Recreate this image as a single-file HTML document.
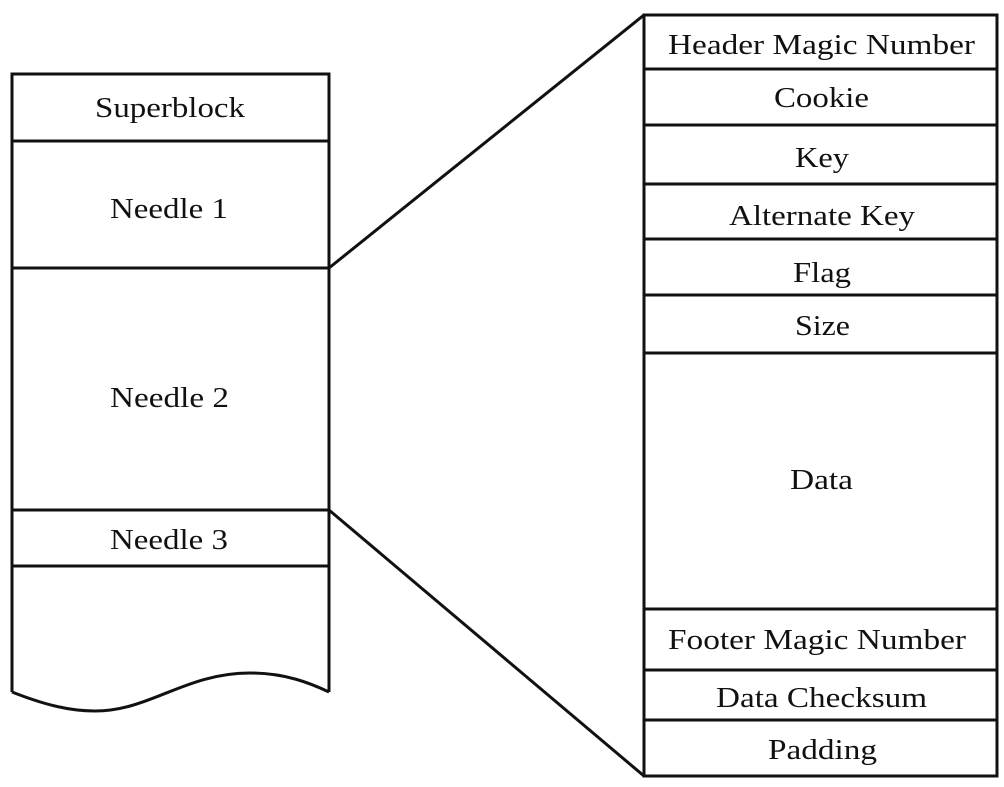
<!DOCTYPE html>
<html><head><meta charset="utf-8"><style>
html,body{margin:0;padding:0;background:#fff;}
svg{display:block;}
text{font-family:"Liberation Serif","Times New Roman",serif;font-size:28px;fill:#111;}
</style></head><body>
<svg width="1004" height="787" viewBox="0 0 1004 787" xmlns="http://www.w3.org/2000/svg">
<g stroke="#111" stroke-width="3" fill="none">
<path d="M12,692 L12,74 L329,74 L329,692"/>
<path d="M12,692 C45,705 70,711 95,711 C150,711 185,673 250,673 C285,673 310,683 329,692"/>
<line x1="12" y1="141" x2="329" y2="141"/>
<line x1="12" y1="268" x2="329" y2="268"/>
<line x1="12" y1="510" x2="329" y2="510"/>
<line x1="12" y1="566" x2="329" y2="566"/>
<line x1="329" y1="268" x2="644" y2="15"/>
<line x1="329" y1="510" x2="644" y2="776"/>
<rect x="644" y="15" width="353" height="761"/>
<line x1="644" y1="69" x2="997" y2="69"/>
<line x1="644" y1="125" x2="997" y2="125"/>
<line x1="644" y1="184" x2="997" y2="184"/>
<line x1="644" y1="239" x2="997" y2="239"/>
<line x1="644" y1="295" x2="997" y2="295"/>
<line x1="644" y1="353" x2="997" y2="353"/>
<line x1="644" y1="609" x2="997" y2="609"/>
<line x1="644" y1="670" x2="997" y2="670"/>
<line x1="644" y1="720" x2="997" y2="720"/>
</g>
<g text-anchor="start">
<text x="95" y="117" textLength="150" lengthAdjust="spacingAndGlyphs">Superblock</text>
<text x="110" y="218" textLength="118" lengthAdjust="spacingAndGlyphs">Needle 1</text>
<text x="110" y="407" textLength="119" lengthAdjust="spacingAndGlyphs">Needle 2</text>
<text x="110" y="549" textLength="118" lengthAdjust="spacingAndGlyphs">Needle 3</text>
<text x="668" y="54" textLength="307" lengthAdjust="spacingAndGlyphs">Header Magic Number</text>
<text x="774" y="107" textLength="95" lengthAdjust="spacingAndGlyphs">Cookie</text>
<text x="795" y="167" textLength="54" lengthAdjust="spacingAndGlyphs">Key</text>
<text x="729" y="225" textLength="186" lengthAdjust="spacingAndGlyphs">Alternate Key</text>
<text x="793" y="282" textLength="58" lengthAdjust="spacingAndGlyphs">Flag</text>
<text x="795" y="335" textLength="55" lengthAdjust="spacingAndGlyphs">Size</text>
<text x="790" y="489" textLength="63" lengthAdjust="spacingAndGlyphs">Data</text>
<text x="668" y="649" textLength="298" lengthAdjust="spacingAndGlyphs">Footer Magic Number</text>
<text x="716" y="707" textLength="211" lengthAdjust="spacingAndGlyphs">Data Checksum</text>
<text x="768" y="759" textLength="109" lengthAdjust="spacingAndGlyphs">Padding</text>
</g>
</svg>
</body></html>
